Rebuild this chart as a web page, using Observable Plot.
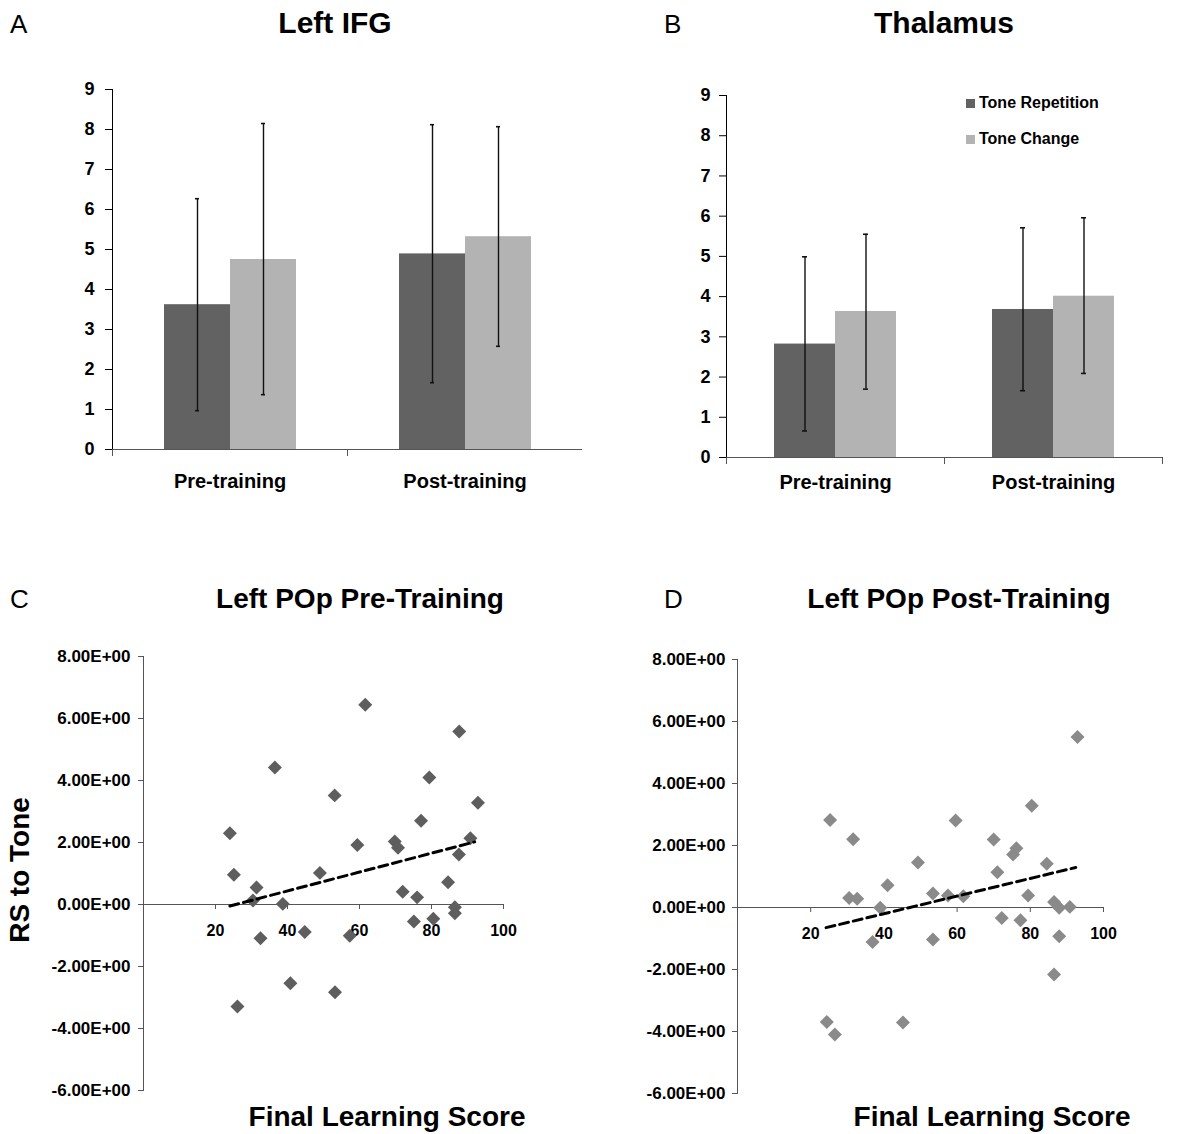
<!DOCTYPE html>
<html>
<head>
<meta charset="utf-8">
<script src="https://cdn.jsdelivr.net/npm/d3@7"></script>
<script src="https://cdn.jsdelivr.net/npm/@observablehq/plot@0.6"></script>
<style>
  html, body { margin: 0; padding: 0; background: #fff; }
  #root { position: relative; width: 1193px; height: 1134px; background: #fff; overflow: hidden;
          font-family: "Liberation Sans", Arial, Helvetica, sans-serif; color: #000; }
  .t { position: absolute; line-height: 1; white-space: nowrap; }
  .letter { font-size: 26px; font-weight: normal; }
  .title { font-weight: bold; transform: translateX(-50%); }
  .axlabel { font-weight: bold; font-size: 28px; transform: translateX(-50%); }
  .legend { position: absolute; font-weight: bold; font-size: 16px; line-height: 1; white-space: nowrap; display: flex; align-items: center; }
  .legend span.sw { display: inline-block; width: 9px; height: 9px; margin-right: 4px; }
  svg g[aria-label="fx-axis tick label"] { font-size: 20px; }
  svg [aria-label="frame"] { stroke: #555; }
  svg g[aria-label="y-axis tick"] { stroke: #555; }
</style>
</head>
<body>
<div id="root"></div>
<script>
// ---------- data ----------
const groups = ["Pre-training", "Post-training"];
const series = ["Tone Repetition", "Tone Change"];
const barTicks = [0, 1, 2, 3, 4, 5, 6, 7, 8, 9];

// order: [Pre/Repetition, Pre/Change, Post/Repetition, Post/Change]
const ifgMean = [3.62, 4.75, 4.89, 5.32];
const ifgLow  = [0.97, 1.37, 1.67, 2.58];
const ifgHigh = [6.27, 8.15, 8.12, 8.07];

const thalMean = [2.82, 3.63, 3.68, 4.01];
const thalLow  = [0.66, 1.70, 1.66, 2.09];
const thalHigh = [4.99, 5.55, 5.71, 5.96];

const scoreTicks = [20, 40, 60, 80, 100];
const rsTicks = [-6, -4, -2, 0, 2, 4, 6, 8];

const preScore = [24.0, 25.1, 31.4, 30.4, 36.5, 38.7, 53.1, 49.0, 59.4, 61.6, 69.8, 70.7, 72.0, 76.0, 77.1, 79.4,
                  84.6, 87.7, 87.6, 86.5, 90.8, 92.9, 86.5, 75.1, 80.5, 32.5, 44.8, 57.3, 40.8, 53.2, 26.1];
const preRS    = [2.30, 0.96, 0.55, 0.13, 4.42, 0.02, 3.52, 1.02, 1.92, 6.44, 2.03, 1.83, 0.41, 0.23, 2.70, 4.10,
                  0.72, 5.58, 1.61, -0.09, 2.14, 3.28, -0.28, -0.55, -0.46, -1.09, -0.89, -1.01, -2.54, -2.83, -3.29];
const preTrendScore = [24.0, 92.0];
const preTrendRS    = [-0.05, 2.02];

const postScore = [25.3, 31.6, 30.5, 32.7, 39.0, 41.0, 49.3, 53.4, 57.5, 59.6, 61.7, 70.0, 71.0, 75.3, 76.2, 79.4,
                   80.4, 84.5, 86.5, 87.9, 90.8, 92.9, 72.2, 77.3, 87.9, 86.5, 36.9, 53.4, 24.4, 26.6, 45.2];
const postRS    = [2.82, 2.20, 0.31, 0.28, -0.01, 0.72, 1.45, 0.45, 0.39, 2.81, 0.36, 2.19, 1.14, 1.71, 1.91, 0.39,
                   3.28, 1.41, 0.18, -0.01, 0.02, 5.50, -0.34, -0.41, -0.93, -2.16, -1.11, -1.03, -3.69, -4.10, -3.71];
const postTrendScore = [24.2, 92.4];
const postTrendRS    = [-0.65, 1.29];

// ---------- styles ----------
const FONT = '"Liberation Sans", Arial, Helvetica, sans-serif';
const DARK = "#626262";
const LIGHT = "#b3b3b3";
const AXIS = "#555";

const root = document.getElementById("root");

function place(el, left, top) {
  el.style.position = "absolute";
  el.style.left = left + "px";
  el.style.top = top + "px";
  root.appendChild(el);
}

function label(text, cls, left, top, size) {
  const d = document.createElement("div");
  d.className = "t " + cls;
  d.textContent = text;
  if (size) d.style.fontSize = size + "px";
  place(d, left, top);
  return d;
}

function barPanel(mean, low, high, o) {
  const rows = [];
  groups.forEach((g, gi) => series.forEach((s, si) => {
    const i = gi * series.length + si;
    rows.push({group: g, series: s, mean: mean[i], low: low[i], high: high[i]});
  }));
  const plotH = o.height - o.mt - o.mb;
  return Plot.plot({
    width: o.width, height: o.height,
    marginLeft: o.ml, marginRight: o.mr, marginTop: o.mt, marginBottom: o.mb,
    style: {fontFamily: FONT, fontWeight: "bold", fontSize: "18px", color: "#000", background: "transparent", overflow: "visible"},
    fx: {domain: groups, padding: 0, label: null, tickSize: 0, tickPadding: o.fxPad},
    x: {domain: series, paddingInner: 0, paddingOuter: 0.761, axis: null},
    y: {domain: [0, 9], ticks: barTicks, tickSize: 7, tickPadding: o.yPad, label: null, line: true},
    color: {domain: series, range: [DARK, LIGHT]},
    marks: [
      Plot.barY(rows, {fx: "group", x: "series", y: "mean", fill: "series"}),
      Plot.ruleY([0], {stroke: AXIS}),
      Plot.frame({anchor: "left", insetTop: plotH, insetBottom: -6, stroke: AXIS}),
      o.endTick ? Plot.frame({anchor: "right", insetTop: plotH, insetBottom: -6, stroke: AXIS}) : null,
      Plot.ruleX(rows, {fx: "group", x: "series", y1: "low", y2: "high", stroke: "#111", strokeWidth: 1.4}),
      Plot.tickY(rows, {fx: "group", x: "series", y: "low", insetLeft: o.cap, insetRight: o.cap, stroke: "#111", strokeWidth: 1.6}),
      Plot.tickY(rows, {fx: "group", x: "series", y: "high", insetLeft: o.cap, insetRight: o.cap, stroke: "#111", strokeWidth: 1.6})
    ]
  });
}

function sciFmt(d) {
  const [m, e] = d.toExponential(2).split("e");
  const sign = e[0] === "-" ? "-" : "+";
  const digits = e.replace(/^[+-]/, "").padStart(2, "0");
  return m + "E" + sign + digits;
}

function scatterPanel(xs, ys, tx, ty, o) {
  const pts = xs.map((x, i) => ({x, y: ys[i]}));
  const trend = tx.map((x, i) => ({x, y: ty[i]}));
  return Plot.plot({
    width: o.width, height: o.height,
    marginLeft: o.ml, marginRight: o.mr, marginTop: o.mt, marginBottom: o.mb,
    style: {fontFamily: FONT, fontWeight: "bold", fontSize: "17px", color: "#000", background: "transparent", overflow: "visible"},
    x: {domain: [0, 100], axis: null},
    y: {domain: [-6, 8], ticks: rsTicks, tickFormat: sciFmt, tickSize: 5, tickPadding: o.yPad, label: null, line: true},
    marks: [
      Plot.ruleY([0], {stroke: AXIS}),
      Plot.ruleX(scoreTicks, {x: d => d, y1: 0, y2: 0, insetBottom: -5, stroke: AXIS}),
      Plot.text(scoreTicks, {x: d => d, y: 0, dy: 26, text: d => String(d), fontSize: 16, lineAnchor: "middle"}),
      Plot.dot(pts, {x: "x", y: "y", symbol: "diamond2", r: 6.3, fill: o.color, stroke: "none"}),
      Plot.line(trend, {x: "x", y: "y", stroke: "#000", strokeWidth: 3, strokeDasharray: "9,5"})
    ]
  });
}

// ---------- panel A ----------
place(barPanel(ifgMean, ifgLow, ifgHigh,
  {width: 596, height: 520, ml: 111, mr: 14, mt: 89, mb: 71, fxPad: 24, yPad: 11, cap: 31, endTick: false}), 0, 0);
// ---------- panel B ----------
place(barPanel(thalMean, thalLow, thalHigh,
  {width: 597, height: 520, ml: 129, mr: 31, mt: 95, mb: 63, fxPad: 17, yPad: 9, cap: 28, endTick: true}), 596, 0);
// ---------- panel C ----------
place(scatterPanel(preScore, preRS, preTrendScore, preTrendRS,
  {width: 596, height: 514, ml: 143, mr: 93, mt: 36, mb: 44, yPad: 8, color: "#5e5e5e"}), 0, 620);
// ---------- panel D ----------
place(scatterPanel(postScore, postRS, postTrendScore, postTrendRS,
  {width: 597, height: 514, ml: 141, mr: 90, mt: 39, mb: 41, yPad: 7, color: "#8a8a8a"}), 596, 620);

// ---------- texts ----------
label("A", "letter", 10, 11);
label("B", "letter", 664, 11);
label("C", "letter", 10, 586);
label("D", "letter", 664, 586);
label("Left IFG", "title", 335, 8, 30);
label("Thalamus", "title", 944, 8, 30);
label("Left POp Pre-Training", "title", 360, 585, 28);
label("Left POp Post-Training", "title", 959, 585, 28);
label("Final Learning Score", "axlabel", 387, 1103);
label("Final Learning Score", "axlabel", 992, 1103);
const rs = label("RS to Tone", "axlabel", 20, 870);
rs.style.transform = "translate(-50%, -50%) rotate(-90deg)";

// legend (panel B)
[[series[0], DARK, 95], [series[1], LIGHT, 131]].forEach(([name, col, top]) => {
  const d = document.createElement("div");
  d.className = "legend";
  const sw = document.createElement("span");
  sw.className = "sw";
  sw.style.background = col;
  d.appendChild(sw);
  d.appendChild(document.createTextNode(name));
  place(d, 966, top);
});
</script>
</body>
</html>
